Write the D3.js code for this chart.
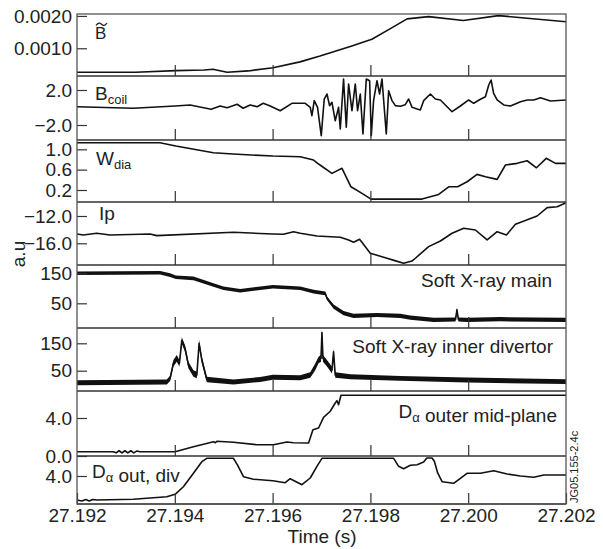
<!DOCTYPE html>
<html><head><meta charset="utf-8">
<script src="https://cdn.jsdelivr.net/npm/d3@7"></script>
<style>
body{margin:0;background:#fff}
svg text{font-family:"Liberation Sans",Arial,Helvetica,sans-serif;fill:#222}
</style>
</head><body>
<svg id="c" width="603" height="549"></svg>
<script>
// ---------- DATA ----------
const xTicks = [27.192, 27.194, 27.196, 27.198, 27.200, 27.202];

const bTildeT = [27.192, 27.1932, 27.19402, 27.1946, 27.19478, 27.19507, 27.1955, 27.19601, 27.19656, 27.19697, 27.19762, 27.19803, 27.1984, 27.19875, 27.19919, 27.1999, 27.20062, 27.202];
const bTildeV = [0.00026, 0.00026, 0.00031, 0.00033, 0.00035, 0.00026, 0.00030, 0.00040, 0.00058, 0.00076, 0.00107, 0.00128, 0.00160, 0.00191, 0.00198, 0.00186, 0.00201, 0.00182];
const bTildeTicks = [0.0010, 0.0020];

const bcoilT = [27.192, 27.193146, 27.194006, 27.194313, 27.194743, 27.194927, 27.195071, 27.195275, 27.195398, 27.195541,
  27.195685, 27.195808, 27.195951, 27.196156, 27.196395, 27.196667, 27.19677, 27.196804, 27.196852, 27.196919,
  27.196995, 27.197056, 27.197112, 27.197165, 27.197214, 27.197281, 27.197349, 27.197384, 27.197451, 27.197507,
  27.197554, 27.197623, 27.197691, 27.197738, 27.197793, 27.197848, 27.197916, 27.197984, 27.198018, 27.198065,
  27.198135, 27.198188, 27.198237, 27.198325, 27.198373, 27.198442, 27.19851, 27.198612, 27.198714, 27.198782,
  27.198852, 27.198954, 27.199021, 27.199089, 27.199226, 27.199329, 27.199431, 27.199568, 27.19967, 27.19984,
  27.20001, 27.200112, 27.20025, 27.200352, 27.20042, 27.200469, 27.20052, 27.200592, 27.200727, 27.200864,
  27.201069, 27.201206, 27.201341, 27.201478, 27.201683, 27.202];
const bcoilV = [0.09, -0.09, 0.17, 0.29, -0.21, 0.17, -0.02, 0.37, -0.09, 0.29,
  0.09, 0.48, 0.17, -0.37, 0.48, 0.48, 0.02, -0.94, 0.78, 0.02,
  -3.22, 0.97, 1.54, 0.21, 0.59, -1.51, 0.02, -2.46, 3.26, -2.26,
  2.69, -0.37, 2.69, -0.37, 1.54, -3.03, 3.26, 3.06, -3.22, 0.78,
  3.06, 1.54, 3.26, -3.03, 1.92, 0.78, 0.21, 0.14, 0.32, 0.97,
  0.02, -0.17, -0.29, 0.78, 1.54, 0.97, 0.86, 0.09, -0.48, 0.17,
  0.86, 0.48, 0.94, 1.23, 2.57, 3.14, 1.62, 0.86, 0.29, 0.17,
  0.66, 0.86, 0.86, 1.12, 0.75, 0.86];
const bcoilTicks = [-2.0, 2.0];

const wdiaT = [27.192, 27.193699, 27.19402, 27.19479, 27.195193, 27.196006, 27.196565, 27.196837, 27.19697, 27.197214,
  27.197419, 27.197603, 27.197828, 27.198012, 27.199056, 27.199396, 27.199601, 27.199785, 27.199977, 27.200182,
  27.200352, 27.200592, 27.200762, 27.201001, 27.201206, 27.201396, 27.201595, 27.201785, 27.202];
const wdiaV = [1.13, 1.13, 1.065, 0.933, 0.907, 0.868, 0.854, 0.789, 0.691, 0.527,
  0.626, 0.263, 0.133, 0.021, 0.021, 0.113, 0.263, 0.263, 0.362, 0.507,
  0.46, 0.409, 0.691, 0.724, 0.775, 0.637, 0.823, 0.724, 0.724];
const wdiaTicks = [0.2, 0.6, 1.0];

const ipT = [27.192, 27.192129, 27.192403, 27.192676, 27.193494, 27.193632, 27.1952, 27.196006, 27.196223, 27.196428,
  27.196565, 27.196907, 27.197384, 27.197554, 27.197656, 27.197779, 27.197998, 27.19834, 27.1985, 27.19868,
  27.19885, 27.198919, 27.199191, 27.199431, 27.19967, 27.199908, 27.200147, 27.200387, 27.200592, 27.200782,
  27.200966, 27.20141, 27.201615, 27.20182, 27.202];
const ipV = [-14.64, -14.78, -14.53, -14.78, -14.64, -14.88, -14.39, -14.64, -14.68, -14.30,
  -14.53, -14.93, -15.12, -15.51, -15.85, -15.41, -17.46, -18.19, -18.54, -18.93,
  -18.6, -18.19, -16.49, -15.66, -14.53, -13.80, -14.05, -15.51, -14.30, -14.78,
  -13.22, -12.00, -10.78, -10.64, -10.05];
const ipTicks = [-16.0, -12.0];

const sxrMainT = [27.192, 27.193699, 27.193904, 27.19402, 27.194381, 27.19479, 27.194995, 27.195337, 27.196006, 27.196565,
  27.196837, 27.197077, 27.197112, 27.197247, 27.197451, 27.197656, 27.198135, 27.198612, 27.198817, 27.199294,
  27.19974, 27.19977, 27.1998, 27.199977, 27.200659, 27.202];
const sxrMainV = [150, 152, 144, 137, 133, 111, 100, 92, 105, 100,
  89, 83, 67, 39, 17, 8, 11, 8, 2, -5,
  -4, 28, -4, -5, -3, -5];
const sxrMainNoise = [6, 6, 6, 6, 6, 6, 6, 6, 6, 6,
  6, 6, 6, 7, 7, 7, 7, 7, 7, 7,
  7, 7, 7, 7, 7, 7];
const sxrMainTicks = [50, 150];

const sxrDivT = [27.192, 27.193836, 27.193904, 27.193971, 27.194041, 27.194094, 27.194143, 27.194211, 27.194278, 27.194381,
  27.19445, 27.194497, 27.194553, 27.194655, 27.1952, 27.195746, 27.196006, 27.196565, 27.19677, 27.196872,
  27.19694, 27.19699, 27.197009, 27.19703, 27.197112, 27.197214, 27.197247, 27.197281, 27.197589, 27.198612,
  27.199977, 27.202];
const sxrDivV = [6, 9, 22, 77, 95, 77, 160, 130, 71, 40,
  34, 150, 89, 18, 9, 18, 26, 24, 34, 64,
  89, 95, 189, 95, 77, 52, 119, 34, 28, 22,
  16, 10];
const sxrDivNoise = [9, 9, 10, 12, 12, 12, 12, 12, 12, 12,
  12, 12, 12, 10, 9, 9, 9, 9, 10, 12,
  12, 12, 12, 12, 12, 12, 12, 10, 9, 9,
  9, 9];
const sxrDivTicks = [50, 150];

const dMidT = [27.192, 27.19274, 27.1928, 27.19286, 27.19292, 27.19298, 27.19304, 27.1931, 27.19316, 27.19322,
  27.19329, 27.194006, 27.194381, 27.19479, 27.19483, 27.19486, 27.1952, 27.195679, 27.196018, 27.196293,
  27.196428, 27.196735, 27.196825, 27.19694, 27.197042, 27.197179, 27.197281, 27.197316, 27.197349, 27.197398,
  27.202];
const dMidV = [0.45, 0.45, 0.33, 0.55, 0.33, 0.55, 0.33, 0.55, 0.33, 0.52,
  0.45, 0.45, 0.98, 1.51, 1.40, 1.55, 1.44, 1.19, 1.19, 1.47,
  1.40, 1.37, 2.77, 2.95, 4.07, 4.71, 5.58, 5.82, 5.40, 6.39,
  6.39];
const dMidTicks = [0.0, 4.0];

const dDivT = [27.192, 27.1921, 27.19218, 27.19225, 27.19232, 27.19241, 27.193152, 27.193836, 27.194006, 27.194176,
  27.194381, 27.194553, 27.194655, 27.1952, 27.195281, 27.195404, 27.195609, 27.196006, 27.196258, 27.19636,
  27.1966, 27.19677, 27.196907, 27.197009, 27.198475, 27.198577, 27.19868, 27.198817, 27.198954, 27.199089,
  27.199154, 27.199261, 27.199308, 27.199376, 27.199466, 27.199703, 27.199977, 27.20025, 27.200522, 27.200796,
  27.201069, 27.201341, 27.201546, 27.202];
const dDivV = [1.0, 0.88, 1.06, 0.88, 1.06, 1.0, 1.09, 1.41, 1.71, 2.66,
  4.34, 5.79, 6.21, 6.21, 5.38, 3.91, 3.59, 3.41, 3.16, 3.66,
  2.91, 3.75, 5.21, 6.21, 6.21, 5.21, 4.91, 5.34, 5.41, 5.75,
  6.25, 6.25, 5.84, 4.38, 3.29, 3.09, 4.34, 4.34, 4.66, 4.25,
  4.0, 3.84, 4.13, 4.13];
const dDivTicks = [4.0];

// ---------- LAYOUT ----------
const X0 = 77, X1 = 566;
const FS = 19;
const svg = d3.select('#c');
const x = d3.scaleLinear().domain([xTicks[0], xTicks[xTicks.length - 1]]).range([X0, X1]);

const panels = [
  {t: bTildeT, v: bTildeV, ticks: bTildeTicks, top: 14, bottom: 76, domain: [0.000143, 0.00206], fmt: '.4f'},
  {t: bcoilT, v: bcoilV, ticks: bcoilTicks, top: 76, bottom: 140, domain: [-3.714, 3.6], fmt: '.1f'},
  {t: wdiaT, v: wdiaV, ticks: wdiaTicks, top: 140, bottom: 202, domain: [-0.036, 1.183], fmt: '.1f'},
  {t: ipT, v: ipV, ticks: ipTicks, top: 202, bottom: 265, domain: [-19.18, -9.95], fmt: '.1f'},
  {t: sxrMainT, v: sxrMainV, n: sxrMainNoise, ticks: sxrMainTicks, top: 265, bottom: 328, domain: [-32.3, 177.7], fmt: 'd'},
  {t: sxrDivT, v: sxrDivV, n: sxrDivNoise, ticks: sxrDivTicks, top: 328, bottom: 391, domain: [-24.1, 205.8], fmt: 'd'},
  {t: dMidT, v: dMidV, ticks: dMidTicks, top: 391, bottom: 456, domain: [0, 6.84], fmt: '.1f'},
  {t: dDivT, v: dDivV, ticks: dDivTicks, top: 456, bottom: 504, domain: [0.5, 6.5], fmt: '.1f'}
];

panels.forEach((p, i) => {
  if (p.t.length !== p.v.length) console.warn('length mismatch', i);
  const y = d3.scaleLinear().domain(p.domain).range([p.bottom, p.top]);
  const g = svg.append('g');
  const idx = d3.range(p.t.length);
  if (p.n) {
    g.append('path')
      .attr('d', d3.area().x(j => x(p.t[j])).y0(j => y(p.v[j] - p.n[j])).y1(j => y(p.v[j] + p.n[j]))(idx))
      .attr('fill', '#111');
  }
  g.append('path')
    .attr('d', d3.line().x(j => x(p.t[j])).y(j => y(p.v[j]))(idx))
    .attr('fill', 'none').attr('stroke', '#111').attr('stroke-width', 1.6)
    .attr('stroke-linejoin', 'round');

  const ya = d3.axisLeft(y).tickValues(p.ticks).tickFormat(d3.format(p.fmt))
    .tickSizeInner(-10).tickSizeOuter(0).tickPadding(5);
  const ag = g.append('g').attr('transform', `translate(${X0},0)`).call(ya);
  ag.select('.domain').remove();
  ag.selectAll('line').attr('stroke', '#333').attr('stroke-width', 1.2);
  ag.selectAll('text').attr('font-size', FS).attr('fill', '#222');
  ag.attr('font-family', null).attr('font-size', null);

  const last = i === panels.length - 1;
  const xa = d3.axisBottom(x).tickValues(last ? xTicks : xTicks.slice(1, -1))
    .tickSizeInner(-11).tickSizeOuter(0).tickPadding(5)
    .tickFormat(last ? d3.format('.3f') : () => '');
  const bg = g.append('g').attr('transform', `translate(0,${p.bottom})`).call(xa);
  bg.select('.domain').remove();
  bg.selectAll('line').attr('stroke', '#333').attr('stroke-width', 1.2);
  bg.selectAll('text').attr('font-size', FS).attr('fill', '#222');
  bg.attr('font-family', null).attr('font-size', null);

  svg.append('line').attr('x1', X0).attr('x2', X1).attr('y1', p.bottom).attr('y2', p.bottom)
    .attr('stroke', '#333').attr('stroke-width', 1.3);
});

// frame
svg.append('rect').attr('x', X0).attr('y', panels[0].top).attr('width', X1 - X0)
  .attr('height', panels[panels.length - 1].bottom - panels[0].top)
  .attr('fill', 'none').attr('stroke', '#555').attr('stroke-width', 1.3);

// ---------- LABELS ----------
function label(xp, yp, parts, anchor) {
  const t = svg.append('text').attr('x', xp).attr('y', yp).attr('font-size', FS)
    .attr('text-anchor', anchor || 'start');
  parts.forEach(pt => {
    if (pt.sub) {
      t.append('tspan').attr('font-size', 13).attr('dy', 4).text(pt.sub);
      t.append('tspan').attr('dy', -4).text('');
    } else {
      t.append('tspan').text(pt.s);
    }
  });
  return t;
}
// B with tilde accent (accent drawn as a small stroke)
svg.append('text').attr('x', 95).attr('y', 38.5).attr('font-size', 17).text('B');
svg.append('path').attr('d', 'M96,25.5 C98,22.5 100,22.5 101.5,24.2 S105,26.2 107,23')
  .attr('fill', 'none').attr('stroke', '#222').attr('stroke-width', 1.3);

label(95, 100, [{s: 'B'}, {sub: 'coil'}]);
label(96, 165, [{s: 'W'}, {sub: 'dia'}]);
label(99, 220, [{s: 'Ip'}]);
label(552, 287, [{s: 'Soft X-ray main'}], 'end');
label(553, 352.5, [{s: 'Soft X-ray inner divertor'}], 'end');
label(557, 418, [{s: 'D'}, {sub: 'α'}, {s: ' outer mid-plane'}], 'end');
label(92, 478, [{s: 'D'}, {sub: 'α'}, {s: ' out, div'}]);

svg.append('text').attr('x', 322).attr('y', 543).attr('font-size', FS).attr('text-anchor', 'middle').text('Time (s)');
svg.append('text').attr('transform', 'translate(25,254) rotate(-90)').attr('font-size', FS)
  .attr('text-anchor', 'middle').text('a.u');
svg.append('text').attr('transform', 'translate(578,503) rotate(-90)').attr('font-size', 11)
  .attr('text-anchor', 'start').text('JG05.155-2.4c');
</script>
</body></html>
